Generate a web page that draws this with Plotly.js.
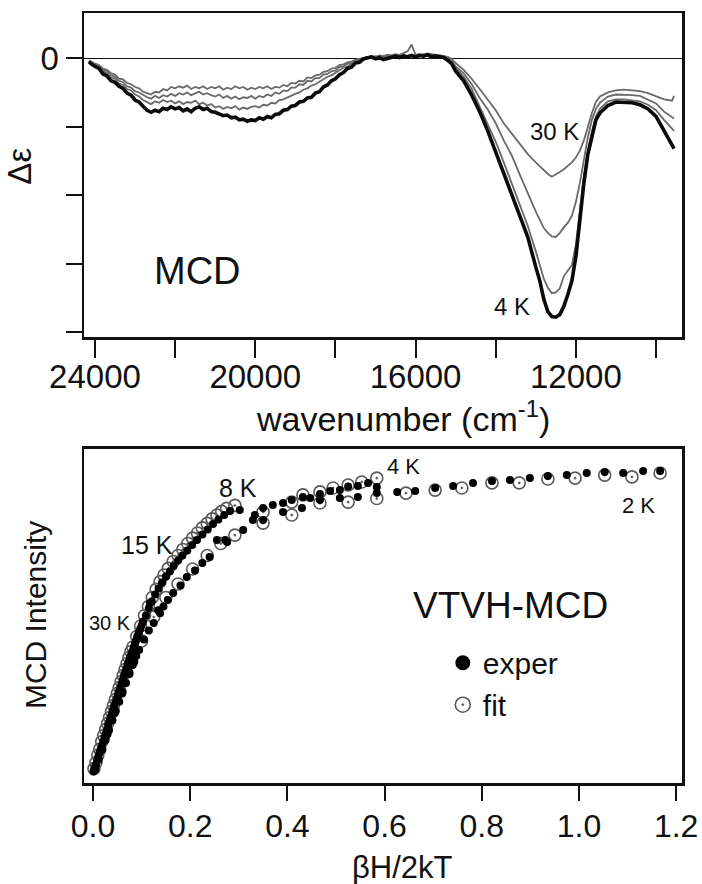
<!DOCTYPE html>
<html>
<head>
<meta charset="utf-8">
<script src="https://cdn.plot.ly/plotly-3.0.1.min.js"></script>
<style>html,body{margin:0;padding:0;background:#fff;}#chart{width:702px;height:884px;}</style>
</head>
<body>
<div id="chart"></div>
<script>
// ---------- Top panel: MCD spectra ----------
const wavenumber = [24150,
  24100,24000,23900,23800,23700,23600,23500,23400,23300,23200,
  23100,23000,22900,22800,22700,22600,22500,22400,22300,22200,
  22100,22000,21900,21800,21700,21600,21500,21400,21300,21200,
  21100,21000,20900,20800,20700,20600,20500,20400,20300,20200,
  20100,20000,19900,19800,19700,19600,19500,19400,19300,19200,
  19100,19000,18900,18800,18700,18600,18500,18400,18300,18200,
  18100,18000,17900,17800,17700,17600,17500,17400,17300,17200,
  17100,17000,16900,16800,16700,16600,16500,16400,16300,16200,
  16100,16000,15900,15800,15700,15600,15500,15400,15300,15200,
  15100,
  15000,14800,14600,14400,14200,14000,13800,13600,13400,13200,
  13000,12900,12800,12700,12600,12500,12400,12300,12200,12100,
  12000,11900,11800,11700,11600,11500,11400,11200,11000,10800,
  10600,10400,10200,10000,9800,9600,9550];

const de4K = [-0.05,
  -0.08,-0.12,-0.15,-0.23,-0.26,-0.33,-0.35,-0.41,-0.44,-0.51,
  -0.54,-0.61,-0.64,-0.70,-0.76,-0.79,-0.76,-0.78,-0.73,-0.75,
  -0.71,-0.74,-0.72,-0.77,-0.74,-0.78,-0.73,-0.71,-0.75,-0.73,
  -0.78,-0.79,-0.82,-0.84,-0.83,-0.87,-0.86,-0.90,-0.89,-0.92,
  -0.90,-0.91,-0.87,-0.89,-0.85,-0.87,-0.82,-0.81,-0.76,-0.75,
  -0.70,-0.69,-0.64,-0.63,-0.58,-0.57,-0.51,-0.49,-0.42,-0.39,
  -0.33,-0.30,-0.24,-0.21,-0.15,-0.13,-0.07,-0.06,-0.01,0.00,
  0.02,-0.01,0.01,-0.02,0.00,0.01,0.03,0.01,0.03,0.02,
  0.04,0.02,0.04,0.03,0.05,0.02,0.03,0.02,0.01,-0.03,
  -0.08,
  -0.19,-0.33,-0.54,-0.78,-1.06,-1.36,-1.66,-1.99,-2.30,-2.61,
  -3.05,-3.25,-3.52,-3.70,-3.77,-3.78,-3.74,-3.62,-3.45,-3.25,
  -2.90,-2.35,-1.82,-1.40,-1.12,-0.90,-0.80,-0.69,-0.64,-0.64,
  -0.65,-0.68,-0.74,-0.85,-1.05,-1.25,-1.32];

const deT3 = [-0.04,
  -0.07,-0.10,-0.13,-0.19,-0.22,-0.28,-0.30,-0.37,-0.39,-0.45,
  -0.47,-0.53,-0.56,-0.61,-0.64,-0.67,-0.63,-0.65,-0.61,-0.64,
  -0.62,-0.66,-0.63,-0.67,-0.64,-0.65,-0.62,-0.67,-0.65,-0.69,
  -0.67,-0.72,-0.70,-0.74,-0.71,-0.73,-0.70,-0.75,-0.72,-0.74,
  -0.71,-0.70,-0.72,-0.68,-0.69,-0.65,-0.66,-0.61,-0.60,-0.57,
  -0.55,-0.52,-0.50,-0.46,-0.44,-0.40,-0.38,-0.34,-0.31,-0.27,
  -0.25,-0.21,-0.18,-0.14,-0.12,-0.08,-0.06,-0.03,-0.01,0.01,
  0.00,0.02,0.00,0.01,0.03,0.01,0.02,0.04,0.02,0.03,
  0.02,0.04,0.03,0.05,0.03,0.04,0.05,0.02,0.02,-0.02,
  -0.06,
  -0.14,-0.27,-0.45,-0.70,-0.95,-1.22,-1.52,-1.82,-2.12,-2.45,
  -2.82,-3.02,-3.22,-3.35,-3.43,-3.42,-3.36,-3.18,-3.10,-3.02,
  -2.72,-2.20,-1.72,-1.35,-1.07,-0.85,-0.74,-0.63,-0.60,-0.60,
  -0.61,-0.63,-0.68,-0.76,-0.90,-1.02,-1.06];

const deT2 = [-0.04,
  -0.06,-0.09,-0.12,-0.17,-0.19,-0.25,-0.27,-0.33,-0.35,-0.41,
  -0.43,-0.48,-0.50,-0.54,-0.57,-0.59,-0.55,-0.58,-0.54,-0.56,
  -0.52,-0.55,-0.51,-0.53,-0.50,-0.54,-0.51,-0.49,-0.53,-0.51,
  -0.54,-0.56,-0.53,-0.58,-0.55,-0.59,-0.56,-0.60,-0.57,-0.58,
  -0.55,-0.59,-0.55,-0.57,-0.53,-0.55,-0.50,-0.52,-0.47,-0.48,
  -0.43,-0.43,-0.38,-0.39,-0.33,-0.34,-0.29,-0.29,-0.24,-0.23,
  -0.19,-0.18,-0.13,-0.12,-0.08,-0.07,-0.03,-0.02,0.00,0.02,
  0.01,0.03,0.01,0.03,0.02,0.04,0.02,0.03,0.05,0.03,
  0.05,0.03,0.04,0.06,0.04,0.05,0.03,0.04,0.03,0.00,
  -0.04,
  -0.12,-0.22,-0.38,-0.58,-0.75,-0.95,-1.20,-1.42,-1.70,-1.98,
  -2.24,-2.36,-2.48,-2.55,-2.60,-2.61,-2.55,-2.47,-2.40,-2.30,
  -2.10,-1.82,-1.45,-1.15,-0.90,-0.74,-0.65,-0.56,-0.53,-0.53,
  -0.54,-0.55,-0.60,-0.66,-0.78,-0.85,-0.88];

const de30K = [-0.03,
  -0.05,-0.08,-0.10,-0.15,-0.17,-0.22,-0.24,-0.30,-0.31,-0.36,
  -0.38,-0.42,-0.44,-0.49,-0.51,-0.53,-0.49,-0.50,-0.45,-0.47,
  -0.42,-0.44,-0.41,-0.43,-0.40,-0.45,-0.42,-0.44,-0.41,-0.45,
  -0.42,-0.44,-0.41,-0.46,-0.43,-0.45,-0.41,-0.44,-0.42,-0.46,
  -0.43,-0.45,-0.42,-0.44,-0.41,-0.45,-0.42,-0.43,-0.39,-0.41,
  -0.36,-0.37,-0.33,-0.34,-0.28,-0.29,-0.25,-0.24,-0.20,-0.19,
  -0.15,-0.14,-0.10,-0.09,-0.06,-0.05,-0.02,-0.01,0.01,0.02,
  0.03,0.02,0.04,0.03,0.05,0.04,0.06,0.05,0.07,0.10,
  0.20,0.05,0.06,0.05,0.07,0.06,0.05,0.04,0.03,0.02,
  -0.01,
  -0.07,-0.17,-0.30,-0.45,-0.60,-0.76,-0.95,-1.10,-1.26,-1.40,
  -1.52,-1.58,-1.64,-1.69,-1.73,-1.70,-1.66,-1.62,-1.57,-1.52,
  -1.45,-1.35,-1.20,-1.00,-0.80,-0.64,-0.56,-0.50,-0.47,-0.46,
  -0.47,-0.48,-0.51,-0.55,-0.60,-0.62,-0.55];

const topTickVals = [24000,22000,20000,18000,16000,14000,12000,10000];
const topTickText = ['24000','','20000','','16000','','12000',''];

// ---------- Bottom panel: VTVH-MCD ----------
const fitX = [0.002,0.006,0.010,0.014,0.018,0.022,0.026,0.030,0.034,0.038,0.042,0.046,0.050,0.054,0.058,0.062,0.066,0.070,0.074,0.078,0.082,0.090,0.098,0.106,0.114,0.122,0.130,0.138,0.146,0.155,0.165,0.175,0.185,0.195,0.205,0.215,0.225,0.235,0.245,0.255,0.265,0.275,0.292,
  0.100,0.125,0.150,0.175,0.205,0.235,0.263,0.292,0.350,0.409,0.467,0.525,0.584,
  0.350,0.409,0.432,0.467,0.494,0.525,0.553,0.584,
  0.644,0.704,0.759,0.821,0.877,0.936,0.992,1.053,1.109,1.167];
const fitY = [0.015,0.035,0.060,0.080,0.105,0.125,0.145,0.165,0.185,0.205,0.225,0.245,0.265,0.285,0.305,0.325,0.345,0.365,0.385,0.405,0.420,0.455,0.490,0.525,0.555,0.585,0.612,0.638,0.660,0.682,0.705,0.725,0.745,0.765,0.783,0.800,0.817,0.832,0.847,0.860,0.872,0.882,0.892,
  0.440,0.520,0.585,0.630,0.680,0.725,0.765,0.793,0.833,0.860,0.900,0.903,0.915,
  0.870,0.903,0.927,0.937,0.950,0.960,0.970,0.983,
  0.933,0.943,0.950,0.967,0.967,0.980,0.983,0.993,0.987,1.000];

const expX = [0.001,0.003,0.006,0.0085,0.011,0.0135,0.016,0.0185,0.021,0.0235,0.026,0.0285,0.031,0.0335,0.036,0.0385,0.041,0.0435,0.046,0.0485,0.051,0.0535,0.056,0.0585,0.061,0.0635,0.066,0.0685,0.071,0.0735,0.076,0.0785,0.081,0.0835,0.086,0.0885,0.091,0.094,0.097,0.100,0.103,0.109,0.115,0.121,0.128,0.135,0.142,0.150,0.158,0.166,0.175,0.184,0.194,0.204,0.214,0.225,0.236,0.247,0.258,0.270,0.282,
  0.005,0.012,0.019,0.026,0.033,0.040,0.047,0.054,0.061,0.068,0.075,0.082,0.089,
  0.030,0.045,0.060,0.075,0.085,0.095,0.105,0.115,0.117,0.125,0.134,0.138,0.145,0.154,0.165,0.180,0.193,0.210,0.225,0.240,0.255,0.272,0.276,
  0.302,0.333,0.350,0.370,0.391,0.409,0.432,0.447,0.467,0.488,0.508,0.525,0.545,0.566,0.584,
  0.309,0.329,0.350,0.391,0.430,0.467,0.508,0.545,0.584,
  0.626,0.663,0.704,0.741,0.782,0.821,0.858,0.899,0.936,0.975,1.016,1.053,1.091,1.132,1.167];
const expY = [0.005,0.018,0.028,0.040,0.055,0.068,0.080,0.090,0.105,0.118,0.130,0.143,0.160,0.172,0.185,0.196,0.210,0.223,0.235,0.247,0.260,0.272,0.285,0.297,0.310,0.322,0.335,0.347,0.360,0.372,0.385,0.395,0.405,0.418,0.430,0.442,0.455,0.467,0.480,0.492,0.505,0.525,0.550,0.572,0.595,0.615,0.635,0.655,0.672,0.690,0.708,0.725,0.742,0.760,0.777,0.795,0.812,0.830,0.845,0.860,0.873,
  0.012,0.045,0.078,0.110,0.143,0.175,0.207,0.238,0.270,0.300,0.330,0.360,0.390,
  0.130,0.200,0.265,0.335,0.370,0.410,0.445,0.475,0.567,0.500,0.543,0.533,0.555,0.577,0.600,0.625,0.653,0.675,0.700,0.720,0.777,0.777,0.770,
  0.877,0.860,0.883,0.893,0.900,0.910,0.920,0.917,0.930,0.940,0.943,0.955,0.957,0.967,0.953,
  0.810,0.843,0.843,0.870,0.883,0.910,0.917,0.920,0.933,
  0.937,0.940,0.950,0.957,0.967,0.973,0.977,0.983,0.990,0.993,1.000,1.003,1.000,1.007,1.007];

const botTickVals = [0,0.2,0.4,0.6,0.8,1.0,1.2];
const botTickText = ['0.0','0.2','0.4','0.6','0.8','1.0','1.2'];

// ---------- Build ----------
const FONT = 'Liberation Sans, Arial, Helvetica, sans-serif';
const grayLine = {color:'#6a6a6a', width:1.8};

const traces = [
  {x:wavenumber, y:de30K, mode:'lines', line:grayLine, xaxis:'x', yaxis:'y', showlegend:false, hoverinfo:'skip'},
  {x:wavenumber, y:deT2, mode:'lines', line:grayLine, xaxis:'x', yaxis:'y', showlegend:false, hoverinfo:'skip'},
  {x:wavenumber, y:deT3, mode:'lines', line:grayLine, xaxis:'x', yaxis:'y', showlegend:false, hoverinfo:'skip'},
  {x:wavenumber, y:de4K, mode:'lines', line:{color:'#0a0a0a', width:3.6}, xaxis:'x', yaxis:'y', showlegend:false, hoverinfo:'skip'},
  {x:fitX, y:fitY, mode:'markers', xaxis:'x2', yaxis:'y2', showlegend:false,
   marker:{symbol:'circle-open-dot', size:12, color:'#5a5a5a', line:{width:1.6, color:'#5a5a5a'}}},
  {x:expX, y:expY, mode:'markers', xaxis:'x2', yaxis:'y2', showlegend:false,
   marker:{symbol:'circle', size:8, color:'#000'}},
  {x:[null], y:[null], mode:'markers', xaxis:'x2', yaxis:'y2', name:'exper', legendgroup:'a', legendrank:1,
   marker:{symbol:'circle', size:15, color:'#000'}},
  {x:[null], y:[null], mode:'markers', xaxis:'x2', yaxis:'y2', name:'fit', legendgroup:'b', legendrank:2,
   marker:{symbol:'circle-open-dot', size:15, color:'#5a5a5a', line:{width:1.6, color:'#5a5a5a'}}}
];

const layout = {
  width:702, height:884,
  margin:{l:84, r:20, t:13, b:101},
  paper_bgcolor:'#fff', plot_bgcolor:'#fff',
  font:{family:FONT, color:'#111'},
  showlegend:true,
  legend:{x:0.60, y:0.19, xanchor:'left', yanchor:'top', bgcolor:'rgba(0,0,0,0)',
          font:{size:30, family:FONT, color:'#111'}, tracegroupgap:0, itemclick:false},
  xaxis:{domain:[0,1], anchor:'y', range:[24274,9352], tickvals:topTickVals, ticktext:topTickText,
         ticks:'outside', ticklen:18, tickwidth:2, tickcolor:'#111', ticklabelstandoff:-9,
         showline:true, mirror:true, linewidth:2.5, linecolor:'#111',
         showgrid:false, zeroline:false, automargin:false,
         tickfont:{size:33, family:FONT, color:'#111'}},
  yaxis:{domain:[0.5792,1], anchor:'x', range:[-4.07,0.66], tickvals:[0,-1,-2,-3,-4], ticktext:['0','','','',''],
         ticks:'outside', ticklen:16, tickwidth:1.6, tickcolor:'#111',
         showline:true, mirror:true, linewidth:2.5, linecolor:'#111',
         showgrid:false, zeroline:true, zerolinecolor:'#111', zerolinewidth:1.3, automargin:false,
         tickfont:{size:33, family:FONT, color:'#111'}},
  xaxis2:{domain:[0,1], anchor:'y2', range:[-0.0185,1.212], tickvals:botTickVals, ticktext:botTickText,
          ticks:'outside', ticklen:15, tickwidth:2, tickcolor:'#111', ticklabelstandoff:-2,
          showline:true, mirror:true, linewidth:2.5, linecolor:'#111',
          showgrid:false, zeroline:false, automargin:false,
          tickfont:{size:32, family:FONT, color:'#111'}},
  yaxis2:{domain:[0,0.4338], anchor:'x2', range:[-0.033,1.08], ticks:'', showticklabels:false,
          showline:true, mirror:true, linewidth:2.5, linecolor:'#111',
          showgrid:false, zeroline:false, automargin:false},
  annotations:[
    {xref:'paper', yref:'paper', x:-0.108, y:0.801, text:'Δε', textangle:-90, showarrow:false,
     xanchor:'center', yanchor:'middle', font:{size:33, family:FONT, color:'#111'}},
    {xref:'paper', yref:'paper', x:(403-84)/598, y:(783-416)/770, text:'wavenumber (cm<sup>-1</sup>)', showarrow:false,
     xanchor:'center', yanchor:'middle', font:{size:34, family:FONT, color:'#111'}},
    {xref:'x', yref:'y', x:21435, y:-3.11, text:'MCD', showarrow:false, font:{size:38, family:FONT, color:'#111'}},
    {xref:'x', yref:'y', x:12542, y:-1.066, text:'30 K', showarrow:false, font:{size:24, family:FONT, color:'#111'}},
    {xref:'x', yref:'y', x:13589, y:-3.62, text:'4 K', showarrow:false, font:{size:24, family:FONT, color:'#111'}},
    {xref:'paper', yref:'paper', x:-0.082, y:0.218, text:'MCD Intensity', textangle:-90, showarrow:false,
     xanchor:'center', yanchor:'middle', font:{size:30, family:FONT, color:'#111'}},
    {xref:'paper', yref:'paper', x:(402-84)/598, y:(783-867)/770, text:'βH/2kT', showarrow:false,
     xanchor:'center', yanchor:'middle', font:{size:31, family:FONT, color:'#111'}},
    {xref:'x2', yref:'y2', x:0.860, y:0.56, text:'VTVH-MCD', showarrow:false, font:{size:37, family:FONT, color:'#111'}},
    {xref:'x2', yref:'y2', x:0.298, y:0.95, text:'8 K', showarrow:false, font:{size:25, family:FONT, color:'#111'}},
    {xref:'x2', yref:'y2', x:0.111, y:0.76, text:'15 K', showarrow:false, font:{size:25, family:FONT, color:'#111'}},
    {xref:'x2', yref:'y2', x:0.035, y:0.50, text:'30 K', showarrow:false, font:{size:20, family:FONT, color:'#111'}},
    {xref:'x2', yref:'y2', x:0.638, y:1.02, text:'4 K', showarrow:false, font:{size:22, family:FONT, color:'#111'}},
    {xref:'x2', yref:'y2', x:1.123, y:0.893, text:'2 K', showarrow:false, font:{size:22, family:FONT, color:'#111'}}
  ]
};

Plotly.newPlot('chart', traces, layout, {staticPlot:true, displayModeBar:false});
</script>
</body>
</html>
